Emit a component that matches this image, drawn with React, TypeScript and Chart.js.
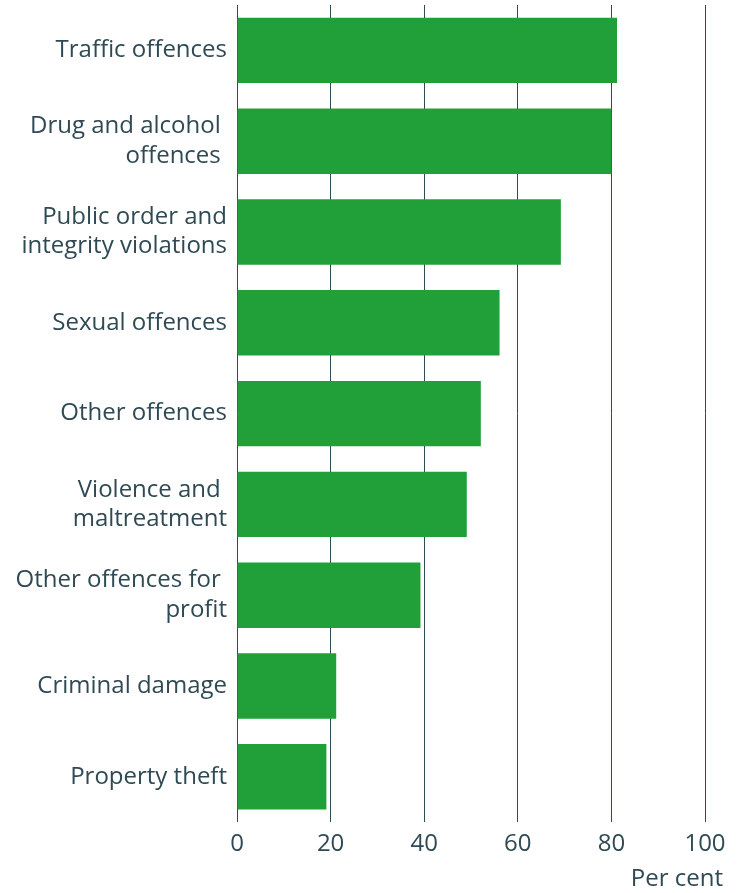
import React, { useEffect, useRef } from "react";
import { Chart, registerables } from "chart.js";

Chart.register(...registerables);

const categories: (string | string[])[] = [
  "Traffic offences",
  ["Drug and alcohol ", "offences "],
  ["Public order and", "integrity violations"],
  "Sexual offences",
  "Other offences",
  ["Violence and ", "maltreatment"],
  ["Other offences for ", "profit"],
  "Criminal damage",
  "Property theft",
];

const values: number[] = [81.2, 80.0, 69.2, 56.1, 52.1, 49.1, 39.2, 21.2, 19.1];

const xTicks: number[] = [0, 20, 40, 60, 80, 100];
const axisTitle = "Per cent";

const TEXT = "#2f4a54";
const GREEN = "#21a03a";
const FONT = "'Open Sans', sans-serif";

export default function App() {
  const ref = useRef<HTMLCanvasElement | null>(null);

  useEffect(() => {
    if (!ref.current) return;
    const titlePlugin = {
      id: "perCentTitle",
      afterDraw(chart: any) {
        const { ctx, chartArea } = chart;
        ctx.save();
        ctx.font = `24px ${FONT}`;
        ctx.fillStyle = TEXT;
        ctx.textAlign = "right";
        ctx.textBaseline = "middle";
        ctx.fillText(axisTitle, chartArea.right + 18, chartArea.bottom + 57);
        ctx.restore();
      },
    };
    const chart = new Chart(ref.current, {
      type: "bar",
      data: {
        labels: categories,
        datasets: [
          {
            data: values,
            backgroundColor: GREEN,
            borderWidth: 0,
            barPercentage: 0.72,
            categoryPercentage: 1,
          },
        ],
      },
      options: {
        indexAxis: "y",
        animation: false,
        responsive: false,
        maintainAspectRatio: false,
        layout: { padding: { top: 5, right: 32, bottom: 26, left: 0 } },
        plugins: { legend: { display: false }, tooltip: { enabled: false } },
        scales: {
          x: {
            min: 0,
            max: 100,
            afterBuildTicks(scale: any) {
              scale.ticks = xTicks.map((v) => ({ value: v }));
            },
            grid: { color: TEXT, lineWidth: 1, drawTicks: false },
            border: { display: false },
            ticks: {
              padding: 8,
              color: TEXT,
              font: { family: FONT, size: 24 },
            },
          },
          y: {
            grid: { display: false, drawTicks: false },
            border: { display: false },
            afterFit(scale: any) {
              scale.width = 237;
              scale.paddingTop = 0;
              scale.paddingBottom = 0;
            },
            ticks: {
              padding: 10,
              color: TEXT,
              font: { family: FONT, size: 24, lineHeight: 1.22 },
            },
          },
        },
      },
      plugins: [titlePlugin],
    });
    return () => chart.destroy();
  }, []);

  return (
    <div style={{ position: "fixed", left: 0, top: 0, width: 737, height: 893, background: "#fff" }}>
      <canvas ref={ref} width={737} height={893} style={{ width: 737, height: 893 }} />
    </div>
  );
}
